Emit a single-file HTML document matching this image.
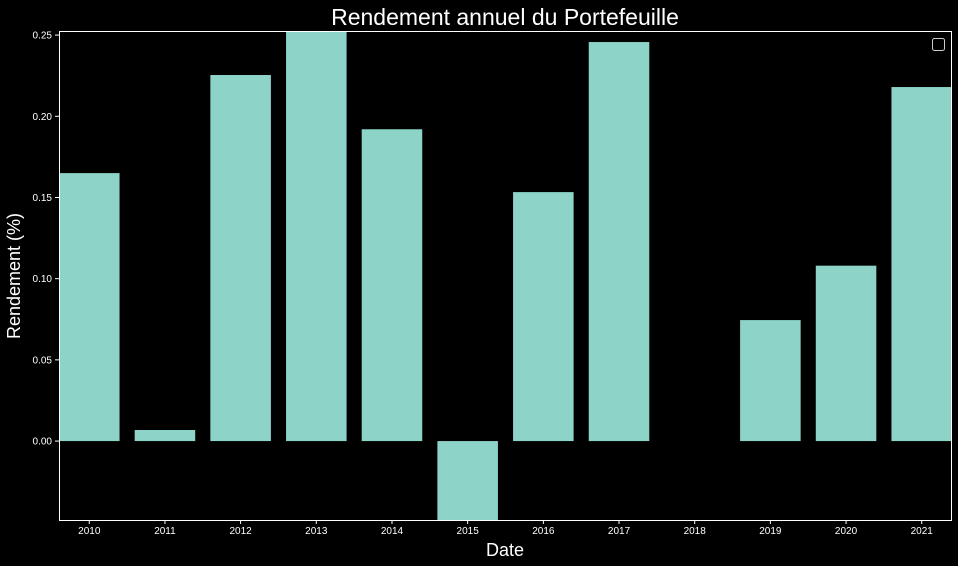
<!DOCTYPE html>
<html><head><meta charset="utf-8"><style>
body{margin:0;background:#000;}
svg{display:block;font-family:"Liberation Sans",sans-serif;}
</style></head><body>
<svg id="chart" width="958" height="566" xmlns="http://www.w3.org/2000/svg">
<rect width="958" height="566" fill="#000"/>
<text x="505" y="25" fill="#fff" font-size="23" text-anchor="middle">Rendement annuel du Portefeuille</text>
<text x="505" y="556" fill="#fff" font-size="18" text-anchor="middle">Date</text>
<text transform="translate(20,276) rotate(-90)" fill="#fff" font-size="18" text-anchor="middle">Rendement (%)</text>
<defs><clipPath id="pc"><rect x="59" y="31" width="893" height="489"/></clipPath></defs>
<g id="bars" clip-path="url(#pc)"></g>
<g id="axes"></g>
<rect x="59.5" y="31.5" width="892" height="489" fill="none" stroke="#fff" stroke-width="1"/>
<rect x="932.5" y="38.5" width="12" height="12" rx="2" fill="none" stroke="#ccc" stroke-width="1"/>
</svg>
<script>
const categories=["2010","2011","2012","2013","2014","2015","2016","2017","2018","2019","2020","2021"];
const values=[0.165,0.0068,0.2254,0.26,0.192,-0.06,0.1533,0.2457,0,0.0745,0.108,0.218];
const yTicks=[0,0.05,0.10,0.15,0.20,0.25];
const yTickLabels=["0.00","0.05","0.10","0.15","0.20","0.25"];
const L=59,R=952,T=31,B=520,yMin=-0.0486,yMax=0.2525;
const x=i=>L+(i+0.4)*(R-L)/11.8;
const y=v=>B-(v-yMin)/(yMax-yMin)*(B-T);
const ns="http://www.w3.org/2000/svg";
const bars=document.getElementById('bars'),axes=document.getElementById('axes');
const bw=0.8*(R-L)/11.8;
categories.forEach((c,i)=>{
 const r=document.createElementNS(ns,'rect');
 const y0=y(0),yv=y(values[i]);
 r.setAttribute('x',x(i)-bw/2);r.setAttribute('width',bw);
 r.setAttribute('y',Math.min(y0,yv));r.setAttribute('height',Math.abs(y0-yv));
 r.setAttribute('fill','#8dd3c7');
 
 
 bars.appendChild(r);
 const t=document.createElementNS(ns,'text');
 t.setAttribute('x',x(i));t.setAttribute('y',B+14);t.setAttribute('fill','#fff');
 t.setAttribute('font-size','10');t.setAttribute('text-anchor','middle');t.textContent=c;
 
 
 axes.appendChild(t);
 const tk=document.createElementNS(ns,'line');
 tk.setAttribute('x1',x(i));tk.setAttribute('x2',x(i));tk.setAttribute('y1',B);tk.setAttribute('y2',B+4);tk.setAttribute('stroke','#fff');
 
 
 axes.appendChild(tk);
});
yTicks.forEach((v,i)=>{
 const t=document.createElementNS(ns,'text');
 t.setAttribute('x',L-7);t.setAttribute('y',y(v)+3.5);t.setAttribute('fill','#fff');
 t.setAttribute('font-size','10');t.setAttribute('text-anchor','end');t.textContent=yTickLabels[i];
 
 
 axes.appendChild(t);
 const tk=document.createElementNS(ns,'line');
 tk.setAttribute('x1',L-4);tk.setAttribute('x2',L);tk.setAttribute('y1',y(v));tk.setAttribute('y2',y(v));tk.setAttribute('stroke','#fff');
 
 
 axes.appendChild(tk);
});
</script>
</body></html>
